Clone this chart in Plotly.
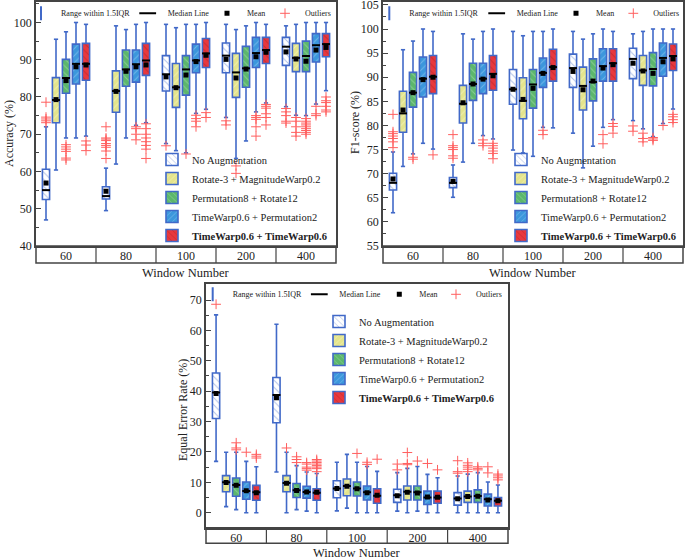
import plotly.graph_objects as go

# ---------------- data ----------------
WINDOWS = ["60", "80", "100", "200", "400"]
METHODS = ["No Augmentation", "Rotate-3 + MagnitudeWarp0.2", "Permutation8 + Rotate12",
           "TimeWarp0.6 + Permutation2", "<b>TimeWarp0.6 + TimeWarp0.6</b>"]

# Accuracy (%)  rows = methods, cols = windows
acc_lower = [[47.0, 49.5, 67.5, 74.5, 77.4], [60.4, 62.0, 65.6, 63.5, 75.1], [69.0, 69.0, 65.0, 68.2, 75.0],
             [69.0, 72.4, 75.6, 76.0, 78.1], [69.5, 73.1, 76.7, 78.4, 81.7]]
acc_q1 = [[52.5, 52.6, 81.6, 86.5, 88.5], [73.1, 75.9, 77.2, 79.9, 86.8], [81.0, 82.9, 80.5, 82.6, 86.8],
          [83.5, 84.0, 86.5, 87.9, 89.4], [84.5, 85.8, 87.9, 89.0, 90.8]]
acc_median = [[55.0, 53.4, 86.1, 91.1, 93.5], [79.2, 81.6, 82.6, 86.6, 90.5], [85.1, 87.4, 87.4, 87.7, 91.0],
              [88.9, 88.8, 89.8, 91.8, 93.9], [88.9, 89.8, 91.7, 92.6, 94.2]]
acc_q3 = [[60.6, 55.9, 91.1, 94.5, 96.0], [85.2, 87.0, 89.0, 91.7, 94.4], [90.1, 92.6, 91.1, 93.6, 95.0],
          [94.2, 92.6, 94.2, 96.0, 97.0], [94.4, 94.4, 95.7, 96.0, 97.0]]
acc_upper = [[72.0, 60.9, 99.5, 99.5, 99.1], [95.5, 99.1, 98.6, 98.1, 99.5], [97.5, 98.1, 99.5, 99.1, 100.0],
             [100.0, 99.5, 99.5, 100.0, 100.0], [99.5, 100.0, 100.0, 99.5, 100.0]]
acc_mean = [[56.9, 54.7, 85.4, 90.1, 92.1], [79.3, 81.5, 82.5, 85.1, 90.2], [84.4, 86.9, 85.9, 87.5, 89.6],
            [88.1, 88.1, 89.5, 90.8, 92.6], [88.6, 88.6, 91.2, 92.0, 93.3]]
acc_outliers = [
    [[78.6, 74.6, 74.1, 73.6, 73.1], [72.0, 69.0, 68.7, 68.3, 67.5, 67.0, 66.5, 65.5, 63.5], [66.9], [73.6, 72.5],
     [76.9, 76.0, 75.0, 73.5, 73.0]],
    [[], [], [], [61.5, 59.5], [74.5, 73.5, 72.0, 70.5, 69.5]],
    [[67.2, 66.6, 66.0, 65.4, 63.6, 63.1], [], [64.7], [], [74.2, 73.5, 73.0, 72.5, 72.0, 71.5, 71.0, 70.5, 70.0]],
    [[], [72.0, 71.5, 70.0, 68.5], [75.1, 74.2, 73.5, 72.0], [75.0, 74.5, 74.0, 72.0, 69.5], [77.5, 75.5, 75.0]],
    [[68.2, 67.1, 65.6], [72.8, 71.5, 70.0, 69.0, 68.0, 67.0, 66.0, 63.5], [75.8, 74.5],
     [78.0, 77.5, 77.0, 75.5, 74.5, 72.5], [80.0, 79.0, 78.5, 77.5, 76.5, 76.0]],
]

# F1-score (%)
f1_lower = [[61.9, 65.1, 74.9, 78.4, 81.0], [71.5, 72.4, 74.3, 71.2, 79.3], [74.1, 76.3, 73.6, 75.7, 77.7],
            [76.3, 77.9, 79.6, 79.6, 80.4], [75.1, 77.2, 79.5, 81.2, 83.4]]
f1_q1 = [[66.6, 67.1, 84.4, 87.9, 89.7], [78.6, 80.5, 81.4, 83.2, 88.3], [83.8, 85.2, 83.6, 85.1, 88.2],
         [85.9, 86.6, 87.9, 89.2, 90.2], [86.6, 87.3, 89.2, 89.2, 91.4]]
f1_median = [[68.1, 68.1, 87.5, 91.9, 93.8], [82.5, 84.5, 85.1, 88.2, 91.4], [86.8, 88.6, 88.5, 89.0, 91.7],
             [89.7, 89.7, 90.9, 92.3, 94.0], [90.1, 90.7, 92.1, 92.9, 94.4]]
f1_q3 = [[70.1, 69.2, 91.6, 94.8, 96.0], [87.1, 88.3, 89.9, 92.1, 94.5], [91.0, 92.9, 91.6, 93.8, 95.1],
         [94.2, 92.9, 94.0, 95.9, 97.1], [94.5, 94.5, 95.8, 95.9, 96.9]]
f1_upper = [[74.5, 71.8, 99.5, 99.5, 99.0], [95.7, 99.0, 98.6, 97.9, 99.5], [97.5, 97.9, 99.5, 99.0, 100.0],
            [100.0, 99.5, 99.5, 100.0, 100.0], [99.5, 100.0, 100.0, 99.5, 100.0]]
f1_mean = [[68.9, 68.4, 87.5, 91.2, 92.9], [83.2, 84.7, 85.4, 87.4, 91.3], [86.8, 88.6, 87.7, 89.2, 90.8],
           [89.5, 89.6, 90.8, 91.9, 93.2], [90.0, 90.3, 92.0, 92.6, 93.8]]
f1_outliers = [
    [[82.3, 78.7, 78.3, 77.8, 77.3, 76.6, 75.4], [78.1, 75.8, 75.4, 75.0, 73.7, 73.2], [], [], [79.9, 78.8]],
    [[], [], [], [], [78.4, 77.3, 76.6]],
    [[73.4, 73.0], [], [], [], [77.5, 77.2, 76.9]],
    [[], [77.0, 76.3, 75.8], [79.0, 78.1], [78.1, 76.2], [80.0]],
    [[73.9], [76.3, 75.8, 75.3, 74.7, 74.2, 73.1], [], [80.4, 79.8, 78.4], [82.3, 81.8, 81.2, 80.6]],
]

# Equal Error Rate (%)
eer_lower = [[16.9, 13.4, 0.6, 0.5, 0.0], [2.0, 0.0, 1.5, 0.0, 0.0], [1.0, 1.0, 0.0, 0.5, 0.0],
             [0.0, 0.5, 0.0, 0.0, 0.0], [0.0, 0.0, 0.0, 0.0, 0.0]]
eer_q1 = [[31.0, 29.6, 4.9, 3.4, 2.5], [6.9, 6.9, 5.6, 4.2, 3.4], [5.4, 5.0, 5.5, 4.2, 3.4],
          [4.4, 4.8, 4.2, 2.7, 2.2], [4.1, 4.1, 3.1, 3.1, 2.2]]
eer_median = [[39.6, 38.7, 8.0, 5.7, 4.7], [10.0, 9.8, 8.8, 6.9, 5.3], [9.1, 7.4, 8.0, 6.7, 5.5],
              [7.1, 6.8, 6.7, 5.0, 4.4], [6.7, 6.6, 5.6, 5.0, 3.9]]
eer_q3 = [[46.0, 44.5, 10.5, 7.7, 6.6], [12.2, 12.2, 11.1, 8.8, 7.1], [11.4, 9.6, 10.1, 8.8, 7.5],
          [10.1, 8.7, 8.8, 7.1, 6.1], [9.0, 7.9, 7.9, 7.1, 5.0]]
eer_upper = [[65.1, 62.0, 16.6, 13.2, 12.1], [19.9, 19.9, 19.2, 14.6, 12.7], [19.9, 15.5, 16.6, 15.2, 13.2],
             [16.9, 13.4, 15.2, 12.6, 10.1], [15.1, 12.9, 13.6, 11.5, 9.1]]
eer_mean = [[39.2, 37.8, 8.0, 5.6, 4.6], [9.9, 9.7, 8.7, 6.7, 5.3], [9.0, 7.3, 7.9, 6.5, 5.4],
            [7.2, 6.8, 6.6, 5.2, 4.2], [6.6, 6.7, 5.7, 5.1, 3.9]]
eer_outliers = [
    [[68.6], [], [], [16.0, 14.1], [17.1, 13.5, 13.0]],
    [[], [21.3], [], [19.8, 16.2, 15.8], [16.4, 15.6, 15.0, 14.3, 13.5]],
    [[23.0, 21.3, 20.7], [18.4, 17.5, 16.5], [19.5], [17.0], [15.1, 14.6, 14.1]],
    [[19.9], [16.5, 16.0, 15.0, 14.5, 14.0], [16.6, 15.9], [16.2], [15.1, 13.1]],
    [[19.2, 18.6, 18.0], [17.5, 17.0, 16.5, 16.0, 15.5, 15.0, 14.5, 13.5], [17.6], [14.1], [12.7, 12.1, 11.5, 10.8]],
]

HEADER = ["Range within 1.5IQR", "Median Line", "Mean", "Outliers"]

# ---------------- styles ----------------
SERIF = "Liberation Serif"
W, H = 685, 559
EDGE = "#4169c8"
FILLS = ["#ffffff", "#e4e48c", "#5cb76c", "#3c97dc", "#e8383d"]
HATCH_FG = ["#5b80d2", "#fafad2", "#b4e2b8", "#a4d2f4", "#a81e22"]
HATCH = ["\\", "/", "\\", "/", "\\"]
OFFSETS = [-2 / 6, -1 / 6, 0, 1 / 6, 2 / 6]
BOX_W = 0.12
CAP = 0.035
MED_HW = 0.066
OUT_COLOR = "rgb(255,95,95)"

fig = go.Figure()


def leg_name(i):
    return "legend" if i == 1 else f"legend{i}"


def add_panel(pi, lower, q1, med, q3, upper, mean, outl, xa, ya):
    base_leg = 1 + pi * 5
    box_leg = leg_name(base_leg + 4)
    for m in range(5):
        xs = [g + OFFSETS[m] for g in range(5)]
        fig.add_trace(go.Bar(
            x=xs, y=[q3[m][g] - q1[m][g] for g in range(5)], base=q1[m], width=BOX_W,
            name=METHODS[m], legend=box_leg, xaxis=xa, yaxis=ya, hoverinfo="skip",
            marker=dict(color=FILLS[m], line=dict(color=EDGE, width=1.6),
                        pattern=dict(shape=HATCH[m], fgcolor=HATCH_FG[m], size=5, solidity=0.2,
                                     fillmode="overlay"))))
    wx, wy, mx, my, ax_, ay_, ox, oy = [], [], [], [], [], [], [], []
    for m in range(5):
        for g in range(5):
            x = g + OFFSETS[m]
            wx += [x, x, None, x - CAP, x + CAP, None, x, x, None, x - CAP, x + CAP, None]
            wy += [q3[m][g], upper[m][g], None, upper[m][g], upper[m][g], None,
                   q1[m][g], lower[m][g], None, lower[m][g], lower[m][g], None]
            mx += [x - MED_HW, x + MED_HW, None]
            my += [med[m][g], med[m][g], None]
            ax_.append(x)
            ay_.append(mean[m][g])
            for v in outl[m][g]:
                ox.append(x)
                oy.append(v)
    fig.add_trace(go.Scatter(x=wx, y=wy, mode="lines", line=dict(color=EDGE, width=1.6),
                             showlegend=False, xaxis=xa, yaxis=ya, hoverinfo="skip"))
    fig.add_trace(go.Scatter(x=mx, y=my, mode="lines", line=dict(color="black", width=2),
                             showlegend=False, xaxis=xa, yaxis=ya, hoverinfo="skip"))
    # legend-only entries for the header row symbols
    fig.add_trace(go.Scatter(x=[None], y=[None], mode="markers", name=HEADER[0],
                             legend=leg_name(base_leg), xaxis=xa, yaxis=ya,
                             marker=dict(symbol="line-ns-open", size=10, color=EDGE,
                                         line=dict(color=EDGE, width=2))))
    fig.add_trace(go.Scatter(x=[None], y=[None], mode="markers", name=HEADER[1],
                             legend=leg_name(base_leg + 1), xaxis=xa, yaxis=ya,
                             marker=dict(symbol="line-ew-open", size=12, color="black",
                                         line=dict(color="black", width=2))))
    fig.add_trace(go.Scatter(x=ax_, y=ay_, mode="markers", name=HEADER[2], legend=leg_name(base_leg + 2),
                             marker=dict(symbol="square", size=5, color="black"), xaxis=xa, yaxis=ya))
    fig.add_trace(go.Scatter(x=ox, y=oy, mode="markers", name=HEADER[3], legend=leg_name(base_leg + 3),
                             marker=dict(symbol="cross-thin-open", size=7, color=OUT_COLOR,
                                         line=dict(color=OUT_COLOR, width=1)), xaxis=xa, yaxis=ya))


add_panel(0, acc_lower, acc_q1, acc_median, acc_q3, acc_upper, acc_mean, acc_outliers, "x", "y")
add_panel(1, f1_lower, f1_q1, f1_median, f1_q3, f1_upper, f1_mean, f1_outliers, "x2", "y2")
add_panel(2, eer_lower, eer_q1, eer_median, eer_q3, eer_upper, eer_mean, eer_outliers, "x3", "y3")


def px_x(p):
    return p / W


def px_y(p):
    return 1 - p / H


# panel geometry in pixels: (left, right, top, bottom, band bottom)
PANELS = [(36, 336, 2, 246, 263), (383, 683, 2, 246, 263), (206, 508, 284, 527.7, 543.3)]
YRANGES = [[40, 105.5], [55, 105.6], [-4.94, 75.27]]
YDTICK = [(10, 5), (5, 2.5), (10, 5)]

layout = dict(width=W, height=H, margin=dict(l=0, r=0, t=0, b=0, autoexpand=False), barmode="overlay",
              template="none",
              paper_bgcolor="white", plot_bgcolor="white", font=dict(family=SERIF, color="#222"))
shapes = []
for i, (l, r, t, b, bb) in enumerate(PANELS):
    sx = "" if i == 0 else str(i + 1)
    layout["xaxis" + sx] = dict(domain=[px_x(l), px_x(r)], range=[-0.5, 4.5], anchor="y" + sx,
                                tickvals=list(range(5)), ticktext=WINDOWS, ticks="", showgrid=False,
                                zeroline=False, showline=True, mirror=True, linecolor="#444", linewidth=1.5,
                                tickfont=dict(family=SERIF, size=12, color="#222"), ticklabelstandoff=-2)
    layout["yaxis" + sx] = dict(domain=[px_y(b), px_y(t)], range=YRANGES[i], anchor="x" + sx,
                                dtick=YDTICK[i][0], tick0=0, ticks="inside", ticklen=5, tickcolor="#444",
                                minor=dict(dtick=YDTICK[i][1], tick0=0, ticks="inside", ticklen=3,
                                           tickcolor="#444"),
                                ticklabeloverflow="allow",
                                showgrid=False, zeroline=False, showline=True, mirror=True, linecolor="#444",
                                linewidth=1.5, tickfont=dict(family=SERIF, size=12, color="#222"))
    bh = (bb - b) / (b - t)
    xr = "x" + sx
    shapes.append(dict(type="rect", xref=xr + " domain", yref="y" + sx + " domain", x0=0, x1=1, y0=0, y1=-bh,
                       line=dict(color="#444", width=1.5)))
    for k in range(4):
        shapes.append(dict(type="line", xref=xr, yref="y" + sx + " domain", x0=k + 0.5, x1=k + 0.5, y0=0,
                           y1=-bh, line=dict(color="#444", width=1.2)))
layout["shapes"] = shapes

# header legends (text start x in px) and box legends
HEADER_TEXT_X = [[61, 167.7, 247, 305], [409.3, 516.7, 596, 653.3], [232.7, 339.3, 419.3, 476]]
HEADER_Y = [13.3, 13.3, 294.3]
BOX_LEG = [(152, 250, "bottom"), (501, 250, "bottom"), (319, 307, "top")]
for i in range(3):
    for k in range(4):
        layout[leg_name(1 + i * 5 + k)] = dict(
            x=px_x(HEADER_TEXT_X[i][k] - 40), y=px_y(HEADER_Y[i]), xanchor="left", yanchor="middle",
            bgcolor="rgba(0,0,0,0)", borderwidth=0, font=dict(family=SERIF, size=8, color="#222"))
    bx, by, anc = BOX_LEG[i]
    layout[leg_name(5 + i * 5)] = dict(
        x=px_x(bx), y=px_y(by), xanchor="left", yanchor=anc, bgcolor="rgba(0,0,0,0)", borderwidth=0,
        font=dict(family=SERIF, size=10.5, color="#222"))

ann = []
YTITLES = [("Accuracy (%)", 9, 134), ("F1-score (%)", 355, 123), ("Equal Error Rate (%)", 183, 410)]
for txt, x, y in YTITLES:
    ann.append(dict(text=txt, x=px_x(x), y=px_y(y), xref="paper", yref="paper", showarrow=False,
                    xanchor="center", yanchor="middle",
                    textangle=-90, font=dict(family=SERIF, size=12, color="#222")))
XTITLES = [(185, 273), (532, 273), (356, 553)]
for x, y in XTITLES:
    ann.append(dict(text="Window Number", x=px_x(x), y=px_y(y), xref="paper", yref="paper", showarrow=False,
                    xanchor="center", yanchor="middle",
                    font=dict(family=SERIF, size=12.5, color="#222")))
layout["annotations"] = ann

fig.update_layout(**layout)
fig.write_html("out.html", config={"displayModeBar": False},
               post_script="document.body.style.margin='0';document.body.style.padding='0';")
